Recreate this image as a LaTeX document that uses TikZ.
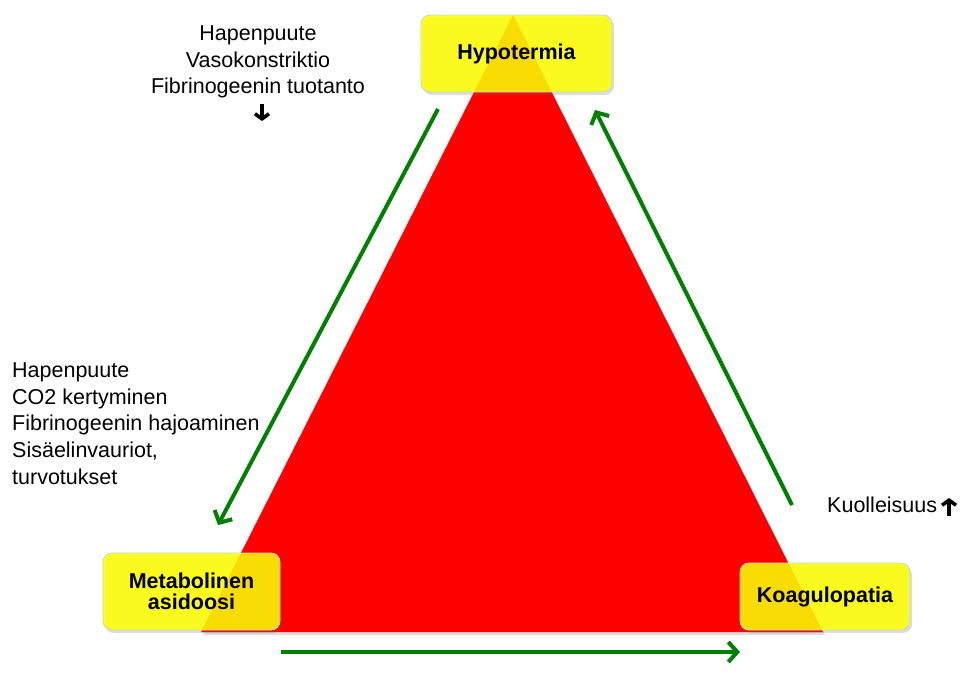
\documentclass[tikz,border=0pt]{standalone}
\usepackage{fontspec}
\setmainfont{Liberation Sans}
\usetikzlibrary{arrows.meta,shadows}
\definecolor{boxyellow}{RGB}{255,255,0}
\definecolor{boxborder}{RGB}{190,215,215}
\definecolor{arrowgreen}{RGB}{0,128,0}
\definecolor{trired}{RGB}{255,0,0}
\begin{document}
\begin{tikzpicture}[x=1pt,y=-1pt,
  softshadow/.style={drop shadow={shadow xshift=2pt,shadow yshift=-3pt,opacity=0.22,fill=black!60}},
  statebox/.style={draw=boxborder,line width=0.8pt,fill=boxyellow,fill opacity=0.85,text opacity=1,
    rounded corners=9pt,align=center,font=\fontsize{21.5}{22}\selectfont\bfseries,inner sep=0pt,softshadow},
  cycarrow/.style={draw=arrowgreen,line width=4pt,-{Straight Barb[length=9pt,width=20pt]}},
  trendarrow/.style={draw=black,line width=3.6pt,-{Straight Barb[length=5pt,width=14pt]}},
  note/.style={font=\fontsize{21.5}{26.6}\selectfont,inner sep=0pt}
]
\useasboundingbox (0,0) rectangle (960,683);
% triangle
\coordinate (apex) at (513,15);
\coordinate (bl) at (201,632);
\coordinate (br) at (823,632);
\fill[trired,softshadow] (apex) -- (bl) -- (br) -- cycle;
% state boxes
\node[statebox,minimum width=191pt,minimum height=77pt] (hypo) at (516.5,53.5) {Hypotermia};
\node[statebox,minimum width=177pt,minimum height=77pt] (meta) at (191.5,591.5) {Metabolinen\\[-0.5pt]asidoosi};
\node[statebox,minimum width=170pt,minimum height=67pt] (koag) at (825,596.5) {Koagulopatia};
% arrow end points
\coordinate (a1s) at (438,109);
\coordinate (a1e) at (218,525);
\coordinate (a2s) at (281,652);
\coordinate (a2e) at (740,652);
\coordinate (a3s) at (792,505);
\coordinate (a3e) at (595,110);
\draw[cycarrow] (a1s) -- (a1e);
\draw[cycarrow] (a2s) -- (a2e);
\draw[cycarrow] (a3s) -- (a3e);
% notes
\node[note,align=center] (topnote) at (258,62) {Hapenpuute\\Vasokonstriktio\\Fibrinogeenin tuotanto};
\coordinate (dn1) at (262,104);
\coordinate (dn2) at (262,121);
\draw[trendarrow] (dn1) -- (dn2);
\node[note,align=left,anchor=west] (leftnote) at (12,423.5) {Hapenpuute\\CO2 kertyminen\\Fibrinogeenin hajoaminen\\Sisäelinvauriot,\\turvotukset};
\node[note,anchor=west] (rightnote) at (827,505) {Kuolleisuus};
\coordinate (up1) at (949,516);
\coordinate (up2) at (949,498);
\draw[trendarrow] (up1) -- (up2);
\end{tikzpicture}
\end{document}
